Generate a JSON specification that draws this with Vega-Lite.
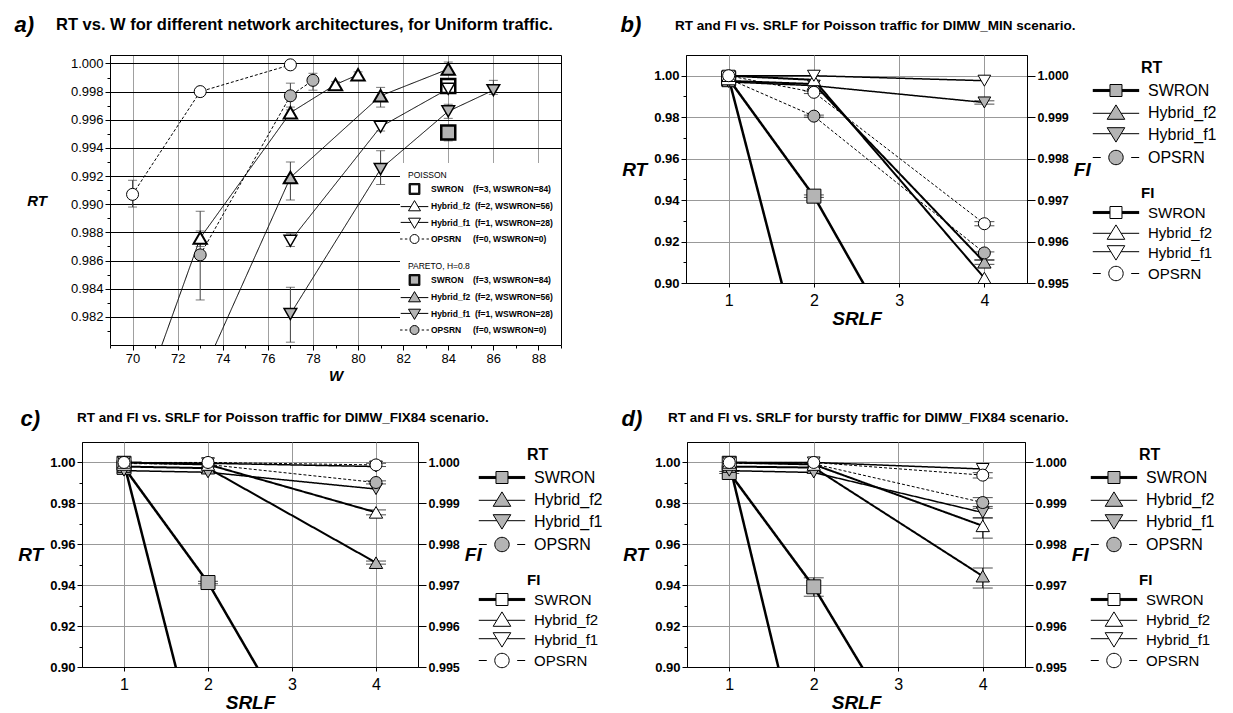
{
  "$schema": "https://vega.github.io/schema/vega-lite/v6.json",
  "padding": {"left": 14, "top": 12, "right": 5, "bottom": 0},
  "config": {
    "font": "Liberation Sans",
    "view": {"stroke": "black", "strokeWidth": 1},
    "axis": {"domainColor": "black", "tickColor": "black", "labelColor": "black", "titleColor": "black", "labelFont": "Liberation Sans", "titleFont": "Liberation Sans", "labelOverlap": false, "labelFlush": false},
    "legend": {"labelFont": "Liberation Sans", "titleFont": "Liberation Sans", "labelColor": "black", "titleColor": "black", "layout": {"direction": "vertical", "right": {"direction": "vertical", "margin": 9}, "bottom-right": {"direction": "vertical", "margin": 0}}},
    "title": {"font": "Liberation Sans", "color": "black", "anchor": "start", "frame": "group", "fontStyle": "normal", "fontWeight": "bold", "fontSize": 13.5, "offset": 0}
  },
  "datasets": {
    "a": [
      {"traffic": "Poisson", "arch": "SWRON", "W": 84, "RT": 0.9984, "lo": 0.9982, "hi": 0.9987},
      {"traffic": "Poisson", "arch": "Hybrid_f2", "W": 70, "RT": 0.9742},
      {"traffic": "Poisson", "arch": "Hybrid_f2", "W": 73, "RT": 0.9876, "lo": 0.987, "hi": 0.9881},
      {"traffic": "Poisson", "arch": "Hybrid_f2", "W": 77, "RT": 0.9965, "lo": 0.9962, "hi": 0.9969},
      {"traffic": "Poisson", "arch": "Hybrid_f2", "W": 79, "RT": 0.9985, "lo": 0.9983, "hi": 0.9987},
      {"traffic": "Poisson", "arch": "Hybrid_f2", "W": 80, "RT": 0.9992, "lo": 0.999, "hi": 0.9994},
      {"traffic": "Poisson", "arch": "Hybrid_f1", "W": 77, "RT": 0.9874, "lo": 0.987, "hi": 0.9879},
      {"traffic": "Poisson", "arch": "Hybrid_f1", "W": 81, "RT": 0.9955, "lo": 0.9952, "hi": 0.9958},
      {"traffic": "Poisson", "arch": "Hybrid_f1", "W": 84, "RT": 0.9982, "lo": 0.998, "hi": 0.9985},
      {"traffic": "Poisson", "arch": "OPSRN", "W": 70, "RT": 0.9907, "lo": 0.9898, "hi": 0.9917},
      {"traffic": "Poisson", "arch": "OPSRN", "W": 73, "RT": 0.998, "lo": 0.9979, "hi": 0.9982},
      {"traffic": "Poisson", "arch": "OPSRN", "W": 77, "RT": 0.9999, "lo": 0.9998, "hi": 1.0},
      {"traffic": "Pareto", "arch": "SWRON", "W": 84, "RT": 0.9951, "lo": 0.9945, "hi": 0.9956},
      {"traffic": "Pareto", "arch": "Hybrid_f2", "W": 73, "RT": 0.9776},
      {"traffic": "Pareto", "arch": "Hybrid_f2", "W": 77, "RT": 0.9919, "lo": 0.9903, "hi": 0.993},
      {"traffic": "Pareto", "arch": "Hybrid_f2", "W": 81, "RT": 0.9977, "lo": 0.9969, "hi": 0.9983},
      {"traffic": "Pareto", "arch": "Hybrid_f2", "W": 84, "RT": 0.9996, "lo": 0.9992, "hi": 1.0001},
      {"traffic": "Pareto", "arch": "Hybrid_f1", "W": 77, "RT": 0.9822, "lo": 0.9802, "hi": 0.9841},
      {"traffic": "Pareto", "arch": "Hybrid_f1", "W": 81, "RT": 0.9925, "lo": 0.9914, "hi": 0.9938},
      {"traffic": "Pareto", "arch": "Hybrid_f1", "W": 84, "RT": 0.9966, "lo": 0.9961, "hi": 0.9971},
      {"traffic": "Pareto", "arch": "Hybrid_f1", "W": 86, "RT": 0.9981, "lo": 0.9978, "hi": 0.9988},
      {"traffic": "Pareto", "arch": "OPSRN", "W": 73, "RT": 0.9864, "lo": 0.9832, "hi": 0.9895},
      {"traffic": "Pareto", "arch": "OPSRN", "W": 77, "RT": 0.9977, "lo": 0.9967, "hi": 0.9986},
      {"traffic": "Pareto", "arch": "OPSRN", "W": 78, "RT": 0.9988, "lo": 0.9981, "hi": 0.9993}
    ],
    "srlf": [
      {"panel": "b", "metric": "RT", "arch": "SWRON", "SRLF": 1, "value": 0.9985},
      {"panel": "b", "metric": "RT", "arch": "SWRON", "SRLF": 2, "value": 0.9419, "lo": 0.9413, "hi": 0.9425},
      {"panel": "b", "metric": "RT", "arch": "SWRON", "SRLF": 4, "value": 0.797},
      {"panel": "b", "metric": "RT", "arch": "Hybrid_f2", "SRLF": 1, "value": 0.9975},
      {"panel": "b", "metric": "RT", "arch": "Hybrid_f2", "SRLF": 2, "value": 0.996},
      {"panel": "b", "metric": "RT", "arch": "Hybrid_f2", "SRLF": 4, "value": 0.91, "lo": 0.909, "hi": 0.911},
      {"panel": "b", "metric": "RT", "arch": "Hybrid_f1", "SRLF": 1, "value": 0.997},
      {"panel": "b", "metric": "RT", "arch": "Hybrid_f1", "SRLF": 2, "value": 0.9952},
      {"panel": "b", "metric": "RT", "arch": "Hybrid_f1", "SRLF": 4, "value": 0.9871, "lo": 0.9863, "hi": 0.9879},
      {"panel": "b", "metric": "RT", "arch": "OPSRN", "SRLF": 1, "value": 0.9985},
      {"panel": "b", "metric": "RT", "arch": "OPSRN", "SRLF": 2, "value": 0.9805, "lo": 0.98, "hi": 0.981},
      {"panel": "b", "metric": "RT", "arch": "OPSRN", "SRLF": 4, "value": 0.9145, "lo": 0.9112, "hi": 0.915},
      {"panel": "b", "metric": "FI", "arch": "SWRON", "SRLF": 1, "value": 0.99995},
      {"panel": "b", "metric": "FI", "arch": "SWRON", "SRLF": 2, "value": 0.992},
      {"panel": "b", "metric": "FI", "arch": "SWRON", "SRLF": 4, "value": 0.976},
      {"panel": "b", "metric": "FI", "arch": "Hybrid_f2", "SRLF": 1, "value": 1.0},
      {"panel": "b", "metric": "FI", "arch": "Hybrid_f2", "SRLF": 2, "value": 0.9999},
      {"panel": "b", "metric": "FI", "arch": "Hybrid_f2", "SRLF": 4, "value": 0.99512},
      {"panel": "b", "metric": "FI", "arch": "Hybrid_f1", "SRLF": 1, "value": 1.0},
      {"panel": "b", "metric": "FI", "arch": "Hybrid_f1", "SRLF": 2, "value": 1.0},
      {"panel": "b", "metric": "FI", "arch": "Hybrid_f1", "SRLF": 4, "value": 0.99988},
      {"panel": "b", "metric": "FI", "arch": "OPSRN", "SRLF": 1, "value": 1.0},
      {"panel": "b", "metric": "FI", "arch": "OPSRN", "SRLF": 2, "value": 0.9996, "lo": 0.99957, "hi": 0.99963},
      {"panel": "b", "metric": "FI", "arch": "OPSRN", "SRLF": 4, "value": 0.99643, "lo": 0.99638, "hi": 0.99648},
      {"panel": "c", "metric": "RT", "arch": "SWRON", "SRLF": 1, "value": 0.9976},
      {"panel": "c", "metric": "RT", "arch": "SWRON", "SRLF": 2, "value": 0.9413, "lo": 0.9407, "hi": 0.9419},
      {"panel": "c", "metric": "RT", "arch": "SWRON", "SRLF": 4, "value": 0.8},
      {"panel": "c", "metric": "RT", "arch": "Hybrid_f2", "SRLF": 1, "value": 0.998},
      {"panel": "c", "metric": "RT", "arch": "Hybrid_f2", "SRLF": 2, "value": 0.9972},
      {"panel": "c", "metric": "RT", "arch": "Hybrid_f2", "SRLF": 4, "value": 0.951, "lo": 0.9503, "hi": 0.9518},
      {"panel": "c", "metric": "RT", "arch": "Hybrid_f1", "SRLF": 1, "value": 0.996},
      {"panel": "c", "metric": "RT", "arch": "Hybrid_f1", "SRLF": 2, "value": 0.9952},
      {"panel": "c", "metric": "RT", "arch": "Hybrid_f1", "SRLF": 4, "value": 0.987},
      {"panel": "c", "metric": "RT", "arch": "OPSRN", "SRLF": 1, "value": 0.9995},
      {"panel": "c", "metric": "RT", "arch": "OPSRN", "SRLF": 2, "value": 0.999},
      {"panel": "c", "metric": "RT", "arch": "OPSRN", "SRLF": 4, "value": 0.9902, "lo": 0.9895, "hi": 0.991},
      {"panel": "c", "metric": "FI", "arch": "SWRON", "SRLF": 1, "value": 0.99998},
      {"panel": "c", "metric": "FI", "arch": "SWRON", "SRLF": 2, "value": 0.9919},
      {"panel": "c", "metric": "FI", "arch": "SWRON", "SRLF": 4, "value": 0.976},
      {"panel": "c", "metric": "FI", "arch": "Hybrid_f2", "SRLF": 1, "value": 1.0},
      {"panel": "c", "metric": "FI", "arch": "Hybrid_f2", "SRLF": 2, "value": 0.99995},
      {"panel": "c", "metric": "FI", "arch": "Hybrid_f2", "SRLF": 4, "value": 0.99878, "lo": 0.99872, "hi": 0.99884},
      {"panel": "c", "metric": "FI", "arch": "Hybrid_f1", "SRLF": 1, "value": 1.0},
      {"panel": "c", "metric": "FI", "arch": "Hybrid_f1", "SRLF": 2, "value": 0.99998},
      {"panel": "c", "metric": "FI", "arch": "Hybrid_f1", "SRLF": 4, "value": 0.9999},
      {"panel": "c", "metric": "FI", "arch": "OPSRN", "SRLF": 1, "value": 1.0},
      {"panel": "c", "metric": "FI", "arch": "OPSRN", "SRLF": 2, "value": 1.0},
      {"panel": "c", "metric": "FI", "arch": "OPSRN", "SRLF": 4, "value": 0.99994, "lo": 0.9999, "hi": 0.99998},
      {"panel": "d", "metric": "RT", "arch": "SWRON", "SRLF": 1, "value": 0.9951, "lo": 0.9946, "hi": 0.9956},
      {"panel": "d", "metric": "RT", "arch": "SWRON", "SRLF": 2, "value": 0.9392, "lo": 0.9346, "hi": 0.9436},
      {"panel": "d", "metric": "RT", "arch": "SWRON", "SRLF": 4, "value": 0.802},
      {"panel": "d", "metric": "RT", "arch": "Hybrid_f2", "SRLF": 1, "value": 0.998},
      {"panel": "d", "metric": "RT", "arch": "Hybrid_f2", "SRLF": 2, "value": 0.9975},
      {"panel": "d", "metric": "RT", "arch": "Hybrid_f2", "SRLF": 4, "value": 0.9444, "lo": 0.9386, "hi": 0.9484},
      {"panel": "d", "metric": "RT", "arch": "Hybrid_f1", "SRLF": 1, "value": 0.996},
      {"panel": "d", "metric": "RT", "arch": "Hybrid_f1", "SRLF": 2, "value": 0.9951},
      {"panel": "d", "metric": "RT", "arch": "Hybrid_f1", "SRLF": 4, "value": 0.9755, "lo": 0.9728, "hi": 0.9785},
      {"panel": "d", "metric": "RT", "arch": "OPSRN", "SRLF": 1, "value": 0.9995},
      {"panel": "d", "metric": "RT", "arch": "OPSRN", "SRLF": 2, "value": 0.9993},
      {"panel": "d", "metric": "RT", "arch": "OPSRN", "SRLF": 4, "value": 0.9804, "lo": 0.9776, "hi": 0.9828},
      {"panel": "d", "metric": "FI", "arch": "SWRON", "SRLF": 1, "value": 0.99998},
      {"panel": "d", "metric": "FI", "arch": "SWRON", "SRLF": 2, "value": 0.9914},
      {"panel": "d", "metric": "FI", "arch": "SWRON", "SRLF": 4, "value": 0.974},
      {"panel": "d", "metric": "FI", "arch": "Hybrid_f2", "SRLF": 1, "value": 1.0},
      {"panel": "d", "metric": "FI", "arch": "Hybrid_f2", "SRLF": 2, "value": 0.99995},
      {"panel": "d", "metric": "FI", "arch": "Hybrid_f2", "SRLF": 4, "value": 0.99845, "lo": 0.99815, "hi": 0.99865},
      {"panel": "d", "metric": "FI", "arch": "Hybrid_f1", "SRLF": 1, "value": 1.0},
      {"panel": "d", "metric": "FI", "arch": "Hybrid_f1", "SRLF": 2, "value": 1.0},
      {"panel": "d", "metric": "FI", "arch": "Hybrid_f1", "SRLF": 4, "value": 0.99984},
      {"panel": "d", "metric": "FI", "arch": "OPSRN", "SRLF": 1, "value": 1.0},
      {"panel": "d", "metric": "FI", "arch": "OPSRN", "SRLF": 2, "value": 1.0},
      {"panel": "d", "metric": "FI", "arch": "OPSRN", "SRLF": 4, "value": 0.99969, "lo": 0.99962, "hi": 0.99975}
    ]
  },
  "spacing": 23,
  "vconcat": [
    {
      "hconcat": [
        {
          "width": 479, "height": 290,
          "view": {"stroke": null},
          "data": {"name": "a"},
          "title": {"text": "RT vs. W for different network architectures, for Uniform traffic.", "dx": -26, "dy": 24, "fontSize": 16.5},
          "resolve": {"scale": {"shape": "independent", "stroke": "independent"}, "axis": {"x": "independent", "y": "independent"}},
          "layer": [
            {
              "transform": [{"filter": "datum.arch !== 'SWRON'"}],
              "mark": {"type": "line", "clip": true, "color": "black", "strokeWidth": 1},
              "encoding": {
                "x": {"field": "W", "type": "quantitative", "scale": {"domain": [69, 89], "range": [28, 479], "nice": false, "zero": false},
                  "axis": {"title": "W", "values": [69, 70, 71, 72, 73, 74, 75, 76, 77, 78, 79, 80, 81, 82, 83, 84, 85, 86, 87, 88, 89], "labelExpr": "datum.value % 2 === 0 ? datum.label : ''", "tickSize": {"condition": {"test": "datum.value % 2 === 0", "value": 5}, "value": 3}, "grid": true, "gridColor": "#a0a0a0", "gridOpacity": {"condition": {"test": "datum.value % 2 === 0", "value": 1}, "value": 0}, "labelFontSize": 13, "labelPadding": 2, "titleFontSize": 15, "titleFontStyle": "italic", "titleFontWeight": "bold", "titlePadding": 3}},
                "y": {"field": "RT", "type": "quantitative", "scale": {"domain": [0.98, 1.0006], "nice": false, "zero": false},
                  "axis": {"title": "RT", "offset": -28, "values": [0.981, 0.982, 0.983, 0.984, 0.985, 0.986, 0.987, 0.988, 0.989, 0.99, 0.991, 0.992, 0.993, 0.994, 0.995, 0.996, 0.997, 0.998, 0.999, 1.0], "format": ".3f", "labelExpr": "round(datum.value*1000) % 2 === 0 ? datum.label : ''", "tickSize": {"condition": {"test": "round(datum.value*1000) % 2 === 0", "value": 5}, "value": 3}, "grid": true, "gridColor": "black", "gridOpacity": {"condition": {"test": "round(datum.value*1000) % 2 === 0", "value": 1}, "value": 0}, "labelFontSize": 13, "labelPadding": 2, "titleAngle": 0, "titleAlign": "right", "titleBaseline": "middle", "titleFontSize": 15, "titleFontStyle": "italic", "titleFontWeight": "bold", "titlePadding": 24}},
                "detail": {"field": "traffic"},
                "strokeDash": {"field": "arch", "type": "nominal", "scale": {"domain": ["Hybrid_f2", "Hybrid_f1", "OPSRN"], "range": [[1, 0], [1, 0], [3, 2]]}, "legend": null}
              }
            },
            {
              "transform": [{"filter": "isValid(datum.lo)"}],
              "mark": {"type": "errorbar", "color": "#404040", "ticks": {"size": 9}},
              "encoding": {
                "x": {"field": "W", "type": "quantitative", "axis": null},
                "y": {"field": "lo", "type": "quantitative", "axis": null},
                "y2": {"field": "hi"}
              }
            },
            {
              "transform": [{"filter": "datum.traffic === 'Poisson'"}],
              "mark": {"type": "point", "filled": true, "fill": "white", "stroke": "black", "opacity": 1, "clip": true},
              "encoding": {
                "x": {"field": "W", "type": "quantitative", "axis": {"orient": "top", "title": "a)", "titleX": -68, "titleY": -24, "titleAlign": "left", "titleBaseline": "alphabetic", "titleAngle": 0, "titleFontSize": 22, "titleFontStyle": "italic", "titleFontWeight": "bold", "labels": false, "ticks": false, "grid": false, "domain": true}},
                "y": {"field": "RT", "type": "quantitative", "axis": {"orient": "right", "title": null, "labels": false, "ticks": false, "grid": false, "domain": true}},
                "shape": {"field": "arch", "type": "nominal", "scale": {"domain": ["SWRON", "Hybrid_f2", "Hybrid_f1", "OPSRN"], "range": ["square", "triangle-up", "triangle-down", "circle"]}, "legend": null},
                "size": {"field": "arch", "type": "ordinal", "scale": {"domain": ["SWRON", "Hybrid_f2", "Hybrid_f1", "OPSRN"], "range": [196, 144, 144, 80]}, "legend": null},
                "strokeWidth": {"field": "arch", "type": "ordinal", "scale": {"domain": ["SWRON", "Hybrid_f2", "Hybrid_f1", "OPSRN"], "range": [2.5, 1, 1, 1]}, "legend": null}
              }
            },
            {
              "transform": [{"filter": "datum.traffic === 'Pareto'"}],
              "mark": {"type": "point", "filled": true, "fill": "#b4b4b4", "stroke": "black", "opacity": 1, "clip": true},
              "encoding": {
                "x": {"field": "W", "type": "quantitative", "axis": null},
                "y": {"field": "RT", "type": "quantitative", "axis": null},
                "shape": {"field": "arch", "type": "nominal", "scale": {"domain": ["SWRON", "Hybrid_f2", "Hybrid_f1", "OPSRN"], "range": ["square", "triangle-up", "triangle-down", "circle"]}, "legend": null},
                "size": {"field": "arch", "type": "ordinal", "scale": {"domain": ["SWRON", "Hybrid_f2", "Hybrid_f1", "OPSRN"], "range": [196, 144, 144, 80]}, "legend": null},
                "strokeWidth": {"field": "arch", "type": "ordinal", "scale": {"domain": ["SWRON", "Hybrid_f2", "Hybrid_f1", "OPSRN"], "range": [2.5, 1, 1, 1]}, "legend": null}
              }
            },
            {
              "transform": [{"filter": "datum.traffic === 'Poisson'"}],
              "mark": {"type": "point", "filled": true, "fill": "white", "opacity": 0, "clip": true},
              "encoding": {
                "x": {"field": "W", "type": "quantitative", "axis": null},
                "y": {"field": "RT", "type": "quantitative", "axis": null},
                "shape": {"field": "arch", "type": "nominal", "scale": {"domain": ["SWRON", "Hybrid_f2", "Hybrid_f1", "OPSRN"], "range": ["M-0.9,-0.9H0.9V0.9H-0.9ZM-0.8,-0.8H0.8V0.8H-0.8ZM-0.7,-0.7H0.7V0.7H-0.7Z", "M-2.3,0.1H-0.59M0.59,0.1H2.3M0,-0.9L1,0.8H-1Z", "M-2.3,-0.1H-0.59M0.59,-0.1H2.3M0,0.9L1,-0.8H-1Z", "M-2.4,0H-2M-1.6,0H-1.2M1.2,0H1.6M2,0H2.4M0.75,0A0.75,0.75,0,1,1,-0.75,0A0.75,0.75,0,1,1,0.75,0Z"]},
                  "legend": {"title": "POISSON", "orient": "bottom-right", "offset": 0, "fillColor": "white", "padding": 8, "symbolSize": 144, "symbolOpacity": 1, "symbolStrokeWidth": 1, "labelFontSize": 8.5, "labelFontWeight": "bold", "labelOffset": 10, "titleFontSize": 8.5, "titleFontWeight": "normal", "titlePadding": 3, "rowPadding": 2,
                    "labelExpr": "datum.label === 'SWRON' ? 'SWRON\u00a0\u00a0\u00a0 (f=3, WSWRON=84)' : datum.label === 'Hybrid_f2' ? 'Hybrid_f2\u00a0 (f=2, WSWRON=56)' : datum.label === 'Hybrid_f1' ? 'Hybrid_f1\u00a0 (f=1, WSWRON=28)' : 'OPSRN\u00a0\u00a0\u00a0\u00a0 (f=0, WSWRON=0)'"}},
                "stroke": {"field": "arch", "type": "nominal", "scale": {"domain": ["SWRON", "Hybrid_f2", "Hybrid_f1", "OPSRN"], "range": ["black", "black", "black", "black"]},
                  "legend": {"title": "POISSON", "orient": "bottom-right", "offset": 0, "fillColor": "white", "padding": 8, "symbolSize": 144, "symbolOpacity": 1, "symbolStrokeWidth": 1, "labelFontSize": 8.5, "labelFontWeight": "bold", "labelOffset": 10, "titleFontSize": 8.5, "titleFontWeight": "normal", "titlePadding": 3, "rowPadding": 2,
                    "labelExpr": "datum.label === 'SWRON' ? 'SWRON\u00a0\u00a0\u00a0 (f=3, WSWRON=84)' : datum.label === 'Hybrid_f2' ? 'Hybrid_f2\u00a0 (f=2, WSWRON=56)' : datum.label === 'Hybrid_f1' ? 'Hybrid_f1\u00a0 (f=1, WSWRON=28)' : 'OPSRN\u00a0\u00a0\u00a0\u00a0 (f=0, WSWRON=0)'"}}
              }
            },
            {
              "transform": [{"filter": "datum.traffic === 'Pareto'"}],
              "mark": {"type": "point", "filled": true, "fill": "#b4b4b4", "opacity": 0, "clip": true},
              "encoding": {
                "x": {"field": "W", "type": "quantitative", "axis": null},
                "y": {"field": "RT", "type": "quantitative", "axis": null},
                "shape": {"field": "arch", "type": "nominal", "scale": {"domain": ["SWRON", "Hybrid_f2", "Hybrid_f1", "OPSRN"], "range": ["M-0.9,-0.9H0.9V0.9H-0.9ZM-0.8,-0.8H0.8V0.8H-0.8ZM-0.7,-0.7H0.7V0.7H-0.7Z", "M-2.3,0.1H-0.59M0.59,0.1H2.3M0,-0.9L1,0.8H-1Z", "M-2.3,-0.1H-0.59M0.59,-0.1H2.3M0,0.9L1,-0.8H-1Z", "M-2.4,0H-2M-1.6,0H-1.2M1.2,0H1.6M2,0H2.4M0.75,0A0.75,0.75,0,1,1,-0.75,0A0.75,0.75,0,1,1,0.75,0Z"]},
                  "legend": {"title": "PARETO, H=0.8", "orient": "bottom-right", "offset": 0, "fillColor": "white", "padding": 8, "symbolSize": 144, "symbolOpacity": 1, "symbolStrokeWidth": 1, "labelFontSize": 8.5, "labelFontWeight": "bold", "labelOffset": 10, "titleFontSize": 8.5, "titleFontWeight": "normal", "titlePadding": 3, "rowPadding": 2,
                    "labelExpr": "datum.label === 'SWRON' ? 'SWRON\u00a0\u00a0\u00a0 (f=3, WSWRON=84)' : datum.label === 'Hybrid_f2' ? 'Hybrid_f2\u00a0 (f=2, WSWRON=56)' : datum.label === 'Hybrid_f1' ? 'Hybrid_f1\u00a0 (f=1, WSWRON=28)' : 'OPSRN\u00a0\u00a0\u00a0\u00a0 (f=0, WSWRON=0)'"}},
                "stroke": {"field": "arch", "type": "nominal", "scale": {"domain": ["SWRON", "Hybrid_f2", "Hybrid_f1", "OPSRN"], "range": ["black", "black", "black", "black"]},
                  "legend": {"title": "PARETO, H=0.8", "orient": "bottom-right", "offset": 0, "fillColor": "white", "padding": 8, "symbolSize": 144, "symbolOpacity": 1, "symbolStrokeWidth": 1, "labelFontSize": 8.5, "labelFontWeight": "bold", "labelOffset": 10, "titleFontSize": 8.5, "titleFontWeight": "normal", "titlePadding": 3, "rowPadding": 2,
                    "labelExpr": "datum.label === 'SWRON' ? 'SWRON\u00a0\u00a0\u00a0 (f=3, WSWRON=84)' : datum.label === 'Hybrid_f2' ? 'Hybrid_f2\u00a0 (f=2, WSWRON=56)' : datum.label === 'Hybrid_f1' ? 'Hybrid_f1\u00a0 (f=1, WSWRON=28)' : 'OPSRN\u00a0\u00a0\u00a0\u00a0 (f=0, WSWRON=0)'"}}
              }
            }
          ]
        },
        {
          "width": 341, "height": 228,
          "data": {"name": "srlf"},
          "transform": [{"filter": "datum.panel === 'b'"}],
          "title": {"text": "RT and FI vs. SRLF for Poisson traffic for DIMW_MIN scenario.", "dx": -11, "dy": 23},
          "resolve": {"scale": {"y": "independent", "shape": "independent", "stroke": "independent"}, "axis": {"x": "independent", "y": "independent"}},
          "layer": [
            {
              "transform": [{"filter": "datum.metric === 'RT'"}],
              "mark": {"type": "line", "clip": true, "color": "black"},
              "encoding": {
                "x": {"field": "SRLF", "type": "quantitative", "scale": {"domain": [0.5, 4.5], "nice": false, "zero": false}, "axis": {"title": "SRLF", "values": [1, 2, 3, 4], "format": "d", "grid": true, "gridColor": "#999999", "tickSize": 4, "labelFontSize": 16, "labelPadding": 5, "titleFontSize": 19, "titleFontStyle": "italic", "titleFontWeight": "bold", "titlePadding": 1}},
                "y": {"field": "value", "type": "quantitative", "scale": {"domain": [0.9, 1.01], "nice": false, "zero": false}, "axis": {"title": "RT", "values": [0.9, 0.91, 0.92, 0.93, 0.94, 0.95, 0.96, 0.97, 0.98, 0.99, 1.0], "format": ".2f", "labelExpr": "round(datum.value*100) % 2 === 0 ? datum.label : ''", "tickSize": {"condition": {"test": "round(datum.value*100) % 2 === 0", "value": 5}, "value": 3}, "grid": true, "gridColor": "#999999", "gridOpacity": {"condition": {"test": "round(datum.value*100) % 2 === 0", "value": 1}, "value": 0}, "labelFontSize": 13, "labelFontWeight": "bold", "labelPadding": 2, "titleAngle": 0, "titleAlign": "right", "titleBaseline": "middle", "titleFontSize": 19, "titleFontStyle": "italic", "titleFontWeight": "bold", "titlePadding": 7}},
                "strokeDash": {"field": "arch", "type": "nominal", "scale": {"domain": ["SWRON", "Hybrid_f2", "Hybrid_f1", "OPSRN"], "range": [[1, 0], [1, 0], [1, 0], [6, 3]]}, "legend": null},
                "strokeWidth": {"field": "arch", "type": "ordinal", "scale": {"domain": ["SWRON", "Hybrid_f2", "Hybrid_f1", "OPSRN"], "range": [2.8, 0.8, 0.8, 1.5]}, "legend": null}
              }
            },
            {
              "transform": [{"filter": "datum.metric === 'FI'"}],
              "mark": {"type": "line", "clip": true, "color": "black"},
              "encoding": {
                "x": {"field": "SRLF", "type": "quantitative", "axis": null},
                "y": {"field": "value", "type": "quantitative", "scale": {"domain": [0.995, 1.0005], "nice": false, "zero": false}, "axis": {"orient": "right", "title": "FI", "values": [0.995, 0.996, 0.997, 0.998, 0.999, 1.0], "format": ".3f", "tickSize": 8, "grid": false, "labelFontSize": 12.5, "labelFontWeight": "bold", "labelPadding": 2, "titleAngle": 0, "titleAlign": "left", "titleBaseline": "middle", "titleFontSize": 19, "titleFontStyle": "italic", "titleFontWeight": "bold", "titlePadding": 5}},
                "strokeDash": {"field": "arch", "type": "nominal", "scale": {"domain": ["SWRON", "Hybrid_f2", "Hybrid_f1", "OPSRN"], "range": [[1, 0], [1, 0], [1, 0], [6, 3]]}, "legend": null},
                "strokeWidth": {"field": "arch", "type": "ordinal", "scale": {"domain": ["SWRON", "Hybrid_f2", "Hybrid_f1", "OPSRN"], "range": [2.8, 0.8, 0.8, 1.5]}, "legend": null}
              }
            },
            {
              "transform": [{"filter": "datum.metric === 'RT' && isValid(datum.lo)"}],
              "mark": {"type": "errorbar", "color": "black", "ticks": {"size": 20}},
              "encoding": {"x": {"field": "SRLF", "type": "quantitative", "axis": null}, "y": {"field": "lo", "type": "quantitative", "scale": {"domain": [0.9, 1.01], "nice": false, "zero": false}, "axis": null}, "y2": {"field": "hi"}}
            },
            {
              "transform": [{"filter": "datum.metric === 'FI' && isValid(datum.lo)"}],
              "mark": {"type": "errorbar", "color": "black", "ticks": {"size": 20}},
              "encoding": {"x": {"field": "SRLF", "type": "quantitative", "axis": null}, "y": {"field": "lo", "type": "quantitative", "scale": {"domain": [0.995, 1.0005], "nice": false, "zero": false}, "axis": null}, "y2": {"field": "hi"}}
            },
            {
              "transform": [{"filter": "datum.metric === 'RT'"}],
              "mark": {"type": "point", "filled": true, "fill": "#b4b4b4", "stroke": "black", "strokeWidth": 1, "opacity": 1, "clip": true},
              "encoding": {
                "x": {"field": "SRLF", "type": "quantitative", "axis": {"orient": "top", "title": "b)", "titleX": -66, "titleY": -24, "titleAlign": "left", "titleBaseline": "alphabetic", "titleAngle": 0, "titleFontSize": 22, "titleFontStyle": "italic", "titleFontWeight": "bold", "labels": false, "ticks": false, "grid": false, "domain": false}},
                "y": {"field": "value", "type": "quantitative", "scale": {"domain": [0.9, 1.01], "nice": false, "zero": false}, "axis": null},
                "shape": {"field": "arch", "type": "nominal", "scale": {"domain": ["SWRON", "Hybrid_f2", "Hybrid_f1", "OPSRN"], "range": ["square", "triangle-up", "triangle-down", "circle"]}, "legend": null},
                "size": {"field": "arch", "type": "ordinal", "scale": {"domain": ["SWRON", "Hybrid_f2", "Hybrid_f1", "OPSRN"], "range": [170, 290, 290, 155]}, "legend": null}
              }
            },
            {
              "transform": [{"filter": "datum.metric === 'FI'"}],
              "mark": {"type": "point", "filled": true, "fill": "white", "stroke": "black", "strokeWidth": 1, "opacity": 1, "clip": true},
              "encoding": {
                "x": {"field": "SRLF", "type": "quantitative", "axis": null},
                "y": {"field": "value", "type": "quantitative", "scale": {"domain": [0.995, 1.0005], "nice": false, "zero": false}, "axis": null},
                "shape": {"field": "arch", "type": "nominal", "scale": {"domain": ["SWRON", "Hybrid_f2", "Hybrid_f1", "OPSRN"], "range": ["square", "triangle-up", "triangle-down", "circle"]}, "legend": null},
                "size": {"field": "arch", "type": "ordinal", "scale": {"domain": ["SWRON", "Hybrid_f2", "Hybrid_f1", "OPSRN"], "range": [170, 290, 290, 155]}, "legend": null}
              }
            },
            {
              "transform": [{"filter": "datum.metric === 'RT'"}],
              "mark": {"type": "point", "filled": true, "fill": "#b4b4b4", "opacity": 0, "clip": true},
              "encoding": {
                "x": {"field": "SRLF", "type": "quantitative", "axis": null},
                "y": {"field": "value", "type": "quantitative", "scale": {"domain": [0.9, 1.01], "nice": false, "zero": false}, "axis": null},
                "shape": {"field": "arch", "type": "nominal", "scale": {"domain": ["SWRON", "Hybrid_f2", "Hybrid_f1", "OPSRN"], "range": ["M-7.09,-0.13H-4.94M-7.09,0H-4.94M-7.09,0.13H-4.94M-3.44,-0.13H-1.29M-3.44,0H-1.29M-3.44,0.13H-1.29M-4.94,-0.75H-3.44V0.75H-4.94Z", "M-7.09,0.1H-4.83M-3.55,0.1H-1.29M-4.19,-0.95L-3.09,0.85H-5.29Z", "M-7.09,-0.1H-4.83M-3.55,-0.1H-1.29M-4.19,0.95L-3.09,-0.85H-5.29Z", "M-7.09,0H-6.09M-2.29,0H-1.29M-3.29,0A0.9,0.9,0,1,1,-5.09,0A0.9,0.9,0,1,1,-3.29,0Z"]},
                  "legend": {"title": "RT", "orient": "right", "offset": 45, "padding": 5, "symbolSize": 256, "symbolOpacity": 1, "symbolStrokeWidth": 1, "labelFontSize": 16, "labelOffset": -10, "titleFontSize": 16, "titleFontWeight": "bold", "titlePadding": 6, "rowPadding": 3}},
                "stroke": {"field": "arch", "type": "nominal", "scale": {"domain": ["SWRON", "Hybrid_f2", "Hybrid_f1", "OPSRN"], "range": ["black", "black", "black", "black"]},
                  "legend": {"title": "RT", "orient": "right", "offset": 45, "padding": 5, "symbolSize": 256, "symbolOpacity": 1, "symbolStrokeWidth": 1, "labelFontSize": 16, "labelOffset": -10, "titleFontSize": 16, "titleFontWeight": "bold", "titlePadding": 6, "rowPadding": 3}}
              }
            },
            {
              "transform": [{"filter": "datum.metric === 'FI'"}],
              "mark": {"type": "point", "filled": true, "fill": "white", "opacity": 0, "clip": true},
              "encoding": {
                "x": {"field": "SRLF", "type": "quantitative", "axis": null},
                "y": {"field": "value", "type": "quantitative", "scale": {"domain": [0.995, 1.0005], "nice": false, "zero": false}, "axis": null},
                "shape": {"field": "arch", "type": "nominal", "scale": {"domain": ["SWRON", "Hybrid_f2", "Hybrid_f1", "OPSRN"], "range": ["M-7.09,-0.13H-4.94M-7.09,0H-4.94M-7.09,0.13H-4.94M-3.44,-0.13H-1.29M-3.44,0H-1.29M-3.44,0.13H-1.29M-4.94,-0.75H-3.44V0.75H-4.94Z", "M-7.09,0.1H-4.83M-3.55,0.1H-1.29M-4.19,-0.95L-3.09,0.85H-5.29Z", "M-7.09,-0.1H-4.83M-3.55,-0.1H-1.29M-4.19,0.95L-3.09,-0.85H-5.29Z", "M-7.09,0H-6.09M-2.29,0H-1.29M-3.29,0A0.9,0.9,0,1,1,-5.09,0A0.9,0.9,0,1,1,-3.29,0Z"]},
                  "legend": {"title": "FI", "orient": "right", "offset": 45, "padding": 5, "symbolSize": 256, "symbolOpacity": 1, "symbolStrokeWidth": 1, "labelFontSize": 15, "labelOffset": -10, "titleFontSize": 15, "titleFontWeight": "bold", "titlePadding": 3, "rowPadding": 1}},
                "stroke": {"field": "arch", "type": "nominal", "scale": {"domain": ["SWRON", "Hybrid_f2", "Hybrid_f1", "OPSRN"], "range": ["black", "black", "black", "black"]},
                  "legend": {"title": "FI", "orient": "right", "offset": 45, "padding": 5, "symbolSize": 256, "symbolOpacity": 1, "symbolStrokeWidth": 1, "labelFontSize": 15, "labelOffset": -10, "titleFontSize": 15, "titleFontWeight": "bold", "titlePadding": 3, "rowPadding": 1}}
              }
            }
          ]
        }
      ],
      "spacing": 125,
      "bounds": "flush"
    },
    {
      "hconcat": [
        {
          "width": 336, "height": 225,
          "data": {"name": "srlf"},
          "transform": [{"filter": "datum.panel === 'c'"}],
          "title": {"text": "RT and FI vs. SRLF for Poisson traffic for DIMW_FIX84 scenario.", "dx": -5, "dy": 21},
          "resolve": {"scale": {"y": "independent", "shape": "independent", "stroke": "independent"}, "axis": {"x": "independent", "y": "independent"}},
          "layer": [
            {
              "transform": [{"filter": "datum.metric === 'RT'"}],
              "mark": {"type": "line", "clip": true, "color": "black"},
              "encoding": {
                "x": {"field": "SRLF", "type": "quantitative", "scale": {"domain": [0.5, 4.5], "nice": false, "zero": false}, "axis": {"title": "SRLF", "values": [1, 2, 3, 4], "format": "d", "grid": true, "gridColor": "#999999", "tickSize": 4, "labelFontSize": 16, "labelPadding": 5, "titleFontSize": 19, "titleFontStyle": "italic", "titleFontWeight": "bold", "titlePadding": 1}},
                "y": {"field": "value", "type": "quantitative", "scale": {"domain": [0.9, 1.01], "nice": false, "zero": false}, "axis": {"title": "RT", "values": [0.9, 0.91, 0.92, 0.93, 0.94, 0.95, 0.96, 0.97, 0.98, 0.99, 1.0], "format": ".2f", "labelExpr": "round(datum.value*100) % 2 === 0 ? datum.label : ''", "tickSize": {"condition": {"test": "round(datum.value*100) % 2 === 0", "value": 5}, "value": 3}, "grid": true, "gridColor": "#999999", "gridOpacity": {"condition": {"test": "round(datum.value*100) % 2 === 0", "value": 1}, "value": 0}, "labelFontSize": 13, "labelFontWeight": "bold", "labelPadding": 2, "titleAngle": 0, "titleAlign": "right", "titleBaseline": "middle", "titleFontSize": 19, "titleFontStyle": "italic", "titleFontWeight": "bold", "titlePadding": 7}},
                "strokeDash": {"field": "arch", "type": "nominal", "scale": {"domain": ["SWRON", "Hybrid_f2", "Hybrid_f1", "OPSRN"], "range": [[1, 0], [1, 0], [1, 0], [6, 3]]}, "legend": null},
                "strokeWidth": {"field": "arch", "type": "ordinal", "scale": {"domain": ["SWRON", "Hybrid_f2", "Hybrid_f1", "OPSRN"], "range": [2.8, 0.8, 0.8, 1.5]}, "legend": null}
              }
            },
            {
              "transform": [{"filter": "datum.metric === 'FI'"}],
              "mark": {"type": "line", "clip": true, "color": "black"},
              "encoding": {
                "x": {"field": "SRLF", "type": "quantitative", "axis": null},
                "y": {"field": "value", "type": "quantitative", "scale": {"domain": [0.995, 1.0005], "nice": false, "zero": false}, "axis": {"orient": "right", "title": "FI", "values": [0.995, 0.996, 0.997, 0.998, 0.999, 1.0], "format": ".3f", "tickSize": 8, "grid": false, "labelFontSize": 12.5, "labelFontWeight": "bold", "labelPadding": 2, "titleAngle": 0, "titleAlign": "left", "titleBaseline": "middle", "titleFontSize": 19, "titleFontStyle": "italic", "titleFontWeight": "bold", "titlePadding": 5}},
                "strokeDash": {"field": "arch", "type": "nominal", "scale": {"domain": ["SWRON", "Hybrid_f2", "Hybrid_f1", "OPSRN"], "range": [[1, 0], [1, 0], [1, 0], [6, 3]]}, "legend": null},
                "strokeWidth": {"field": "arch", "type": "ordinal", "scale": {"domain": ["SWRON", "Hybrid_f2", "Hybrid_f1", "OPSRN"], "range": [2.8, 0.8, 0.8, 1.5]}, "legend": null}
              }
            },
            {
              "transform": [{"filter": "datum.metric === 'RT' && isValid(datum.lo)"}],
              "mark": {"type": "errorbar", "color": "black", "ticks": {"size": 20}},
              "encoding": {"x": {"field": "SRLF", "type": "quantitative", "axis": null}, "y": {"field": "lo", "type": "quantitative", "scale": {"domain": [0.9, 1.01], "nice": false, "zero": false}, "axis": null}, "y2": {"field": "hi"}}
            },
            {
              "transform": [{"filter": "datum.metric === 'FI' && isValid(datum.lo)"}],
              "mark": {"type": "errorbar", "color": "black", "ticks": {"size": 20}},
              "encoding": {"x": {"field": "SRLF", "type": "quantitative", "axis": null}, "y": {"field": "lo", "type": "quantitative", "scale": {"domain": [0.995, 1.0005], "nice": false, "zero": false}, "axis": null}, "y2": {"field": "hi"}}
            },
            {
              "transform": [{"filter": "datum.metric === 'RT'"}],
              "mark": {"type": "point", "filled": true, "fill": "#b4b4b4", "stroke": "black", "strokeWidth": 1, "opacity": 1, "clip": true},
              "encoding": {
                "x": {"field": "SRLF", "type": "quantitative", "axis": {"orient": "top", "title": "c)", "titleX": -62, "titleY": -17, "titleAlign": "left", "titleBaseline": "alphabetic", "titleAngle": 0, "titleFontSize": 22, "titleFontStyle": "italic", "titleFontWeight": "bold", "labels": false, "ticks": false, "grid": false, "domain": false}},
                "y": {"field": "value", "type": "quantitative", "scale": {"domain": [0.9, 1.01], "nice": false, "zero": false}, "axis": null},
                "shape": {"field": "arch", "type": "nominal", "scale": {"domain": ["SWRON", "Hybrid_f2", "Hybrid_f1", "OPSRN"], "range": ["square", "triangle-up", "triangle-down", "circle"]}, "legend": null},
                "size": {"field": "arch", "type": "ordinal", "scale": {"domain": ["SWRON", "Hybrid_f2", "Hybrid_f1", "OPSRN"], "range": [170, 290, 290, 155]}, "legend": null}
              }
            },
            {
              "transform": [{"filter": "datum.metric === 'FI'"}],
              "mark": {"type": "point", "filled": true, "fill": "white", "stroke": "black", "strokeWidth": 1, "opacity": 1, "clip": true},
              "encoding": {
                "x": {"field": "SRLF", "type": "quantitative", "axis": null},
                "y": {"field": "value", "type": "quantitative", "scale": {"domain": [0.995, 1.0005], "nice": false, "zero": false}, "axis": null},
                "shape": {"field": "arch", "type": "nominal", "scale": {"domain": ["SWRON", "Hybrid_f2", "Hybrid_f1", "OPSRN"], "range": ["square", "triangle-up", "triangle-down", "circle"]}, "legend": null},
                "size": {"field": "arch", "type": "ordinal", "scale": {"domain": ["SWRON", "Hybrid_f2", "Hybrid_f1", "OPSRN"], "range": [170, 290, 290, 155]}, "legend": null}
              }
            },
            {
              "transform": [{"filter": "datum.metric === 'RT'"}],
              "mark": {"type": "point", "filled": true, "fill": "#b4b4b4", "opacity": 0, "clip": true},
              "encoding": {
                "x": {"field": "SRLF", "type": "quantitative", "axis": null},
                "y": {"field": "value", "type": "quantitative", "scale": {"domain": [0.9, 1.01], "nice": false, "zero": false}, "axis": null},
                "shape": {"field": "arch", "type": "nominal", "scale": {"domain": ["SWRON", "Hybrid_f2", "Hybrid_f1", "OPSRN"], "range": ["M-7.09,-0.13H-4.94M-7.09,0H-4.94M-7.09,0.13H-4.94M-3.44,-0.13H-1.29M-3.44,0H-1.29M-3.44,0.13H-1.29M-4.94,-0.75H-3.44V0.75H-4.94Z", "M-7.09,0.1H-4.83M-3.55,0.1H-1.29M-4.19,-0.95L-3.09,0.85H-5.29Z", "M-7.09,-0.1H-4.83M-3.55,-0.1H-1.29M-4.19,0.95L-3.09,-0.85H-5.29Z", "M-7.09,0H-6.09M-2.29,0H-1.29M-3.29,0A0.9,0.9,0,1,1,-5.09,0A0.9,0.9,0,1,1,-3.29,0Z"]},
                  "legend": {"title": "RT", "orient": "right", "offset": 40, "padding": 5, "symbolSize": 256, "symbolOpacity": 1, "symbolStrokeWidth": 1, "labelFontSize": 16, "labelOffset": -10, "titleFontSize": 16, "titleFontWeight": "bold", "titlePadding": 6, "rowPadding": 3}},
                "stroke": {"field": "arch", "type": "nominal", "scale": {"domain": ["SWRON", "Hybrid_f2", "Hybrid_f1", "OPSRN"], "range": ["black", "black", "black", "black"]},
                  "legend": {"title": "RT", "orient": "right", "offset": 40, "padding": 5, "symbolSize": 256, "symbolOpacity": 1, "symbolStrokeWidth": 1, "labelFontSize": 16, "labelOffset": -10, "titleFontSize": 16, "titleFontWeight": "bold", "titlePadding": 6, "rowPadding": 3}}
              }
            },
            {
              "transform": [{"filter": "datum.metric === 'FI'"}],
              "mark": {"type": "point", "filled": true, "fill": "white", "opacity": 0, "clip": true},
              "encoding": {
                "x": {"field": "SRLF", "type": "quantitative", "axis": null},
                "y": {"field": "value", "type": "quantitative", "scale": {"domain": [0.995, 1.0005], "nice": false, "zero": false}, "axis": null},
                "shape": {"field": "arch", "type": "nominal", "scale": {"domain": ["SWRON", "Hybrid_f2", "Hybrid_f1", "OPSRN"], "range": ["M-7.09,-0.13H-4.94M-7.09,0H-4.94M-7.09,0.13H-4.94M-3.44,-0.13H-1.29M-3.44,0H-1.29M-3.44,0.13H-1.29M-4.94,-0.75H-3.44V0.75H-4.94Z", "M-7.09,0.1H-4.83M-3.55,0.1H-1.29M-4.19,-0.95L-3.09,0.85H-5.29Z", "M-7.09,-0.1H-4.83M-3.55,-0.1H-1.29M-4.19,0.95L-3.09,-0.85H-5.29Z", "M-7.09,0H-6.09M-2.29,0H-1.29M-3.29,0A0.9,0.9,0,1,1,-5.09,0A0.9,0.9,0,1,1,-3.29,0Z"]},
                  "legend": {"title": "FI", "orient": "right", "offset": 40, "padding": 5, "symbolSize": 256, "symbolOpacity": 1, "symbolStrokeWidth": 1, "labelFontSize": 15, "labelOffset": -10, "titleFontSize": 15, "titleFontWeight": "bold", "titlePadding": 3, "rowPadding": 1}},
                "stroke": {"field": "arch", "type": "nominal", "scale": {"domain": ["SWRON", "Hybrid_f2", "Hybrid_f1", "OPSRN"], "range": ["black", "black", "black", "black"]},
                  "legend": {"title": "FI", "orient": "right", "offset": 40, "padding": 5, "symbolSize": 256, "symbolOpacity": 1, "symbolStrokeWidth": 1, "labelFontSize": 15, "labelOffset": -10, "titleFontSize": 15, "titleFontWeight": "bold", "titlePadding": 3, "rowPadding": 1}}
              }
            }
          ]
        },
        {
          "width": 338, "height": 225,
          "data": {"name": "srlf"},
          "transform": [{"filter": "datum.panel === 'd'"}],
          "title": {"text": "RT and FI vs. SRLF for bursty traffic for DIMW_FIX84 scenario.", "dx": -19, "dy": 21},
          "resolve": {"scale": {"y": "independent", "shape": "independent", "stroke": "independent"}, "axis": {"x": "independent", "y": "independent"}},
          "layer": [
            {
              "transform": [{"filter": "datum.metric === 'RT'"}],
              "mark": {"type": "line", "clip": true, "color": "black"},
              "encoding": {
                "x": {"field": "SRLF", "type": "quantitative", "scale": {"domain": [0.5, 4.5], "nice": false, "zero": false}, "axis": {"title": "SRLF", "values": [1, 2, 3, 4], "format": "d", "grid": true, "gridColor": "#999999", "tickSize": 4, "labelFontSize": 16, "labelPadding": 5, "titleFontSize": 19, "titleFontStyle": "italic", "titleFontWeight": "bold", "titlePadding": 1}},
                "y": {"field": "value", "type": "quantitative", "scale": {"domain": [0.9, 1.01], "nice": false, "zero": false}, "axis": {"title": "RT", "values": [0.9, 0.91, 0.92, 0.93, 0.94, 0.95, 0.96, 0.97, 0.98, 0.99, 1.0], "format": ".2f", "labelExpr": "round(datum.value*100) % 2 === 0 ? datum.label : ''", "tickSize": {"condition": {"test": "round(datum.value*100) % 2 === 0", "value": 5}, "value": 3}, "grid": true, "gridColor": "#999999", "gridOpacity": {"condition": {"test": "round(datum.value*100) % 2 === 0", "value": 1}, "value": 0}, "labelFontSize": 13, "labelFontWeight": "bold", "labelPadding": 2, "titleAngle": 0, "titleAlign": "right", "titleBaseline": "middle", "titleFontSize": 19, "titleFontStyle": "italic", "titleFontWeight": "bold", "titlePadding": 7}},
                "strokeDash": {"field": "arch", "type": "nominal", "scale": {"domain": ["SWRON", "Hybrid_f2", "Hybrid_f1", "OPSRN"], "range": [[1, 0], [1, 0], [1, 0], [6, 3]]}, "legend": null},
                "strokeWidth": {"field": "arch", "type": "ordinal", "scale": {"domain": ["SWRON", "Hybrid_f2", "Hybrid_f1", "OPSRN"], "range": [2.8, 0.8, 0.8, 1.5]}, "legend": null}
              }
            },
            {
              "transform": [{"filter": "datum.metric === 'FI'"}],
              "mark": {"type": "line", "clip": true, "color": "black"},
              "encoding": {
                "x": {"field": "SRLF", "type": "quantitative", "axis": null},
                "y": {"field": "value", "type": "quantitative", "scale": {"domain": [0.995, 1.0005], "nice": false, "zero": false}, "axis": {"orient": "right", "title": "FI", "values": [0.995, 0.996, 0.997, 0.998, 0.999, 1.0], "format": ".3f", "tickSize": 8, "grid": false, "labelFontSize": 12.5, "labelFontWeight": "bold", "labelPadding": 2, "titleAngle": 0, "titleAlign": "left", "titleBaseline": "middle", "titleFontSize": 19, "titleFontStyle": "italic", "titleFontWeight": "bold", "titlePadding": 5}},
                "strokeDash": {"field": "arch", "type": "nominal", "scale": {"domain": ["SWRON", "Hybrid_f2", "Hybrid_f1", "OPSRN"], "range": [[1, 0], [1, 0], [1, 0], [6, 3]]}, "legend": null},
                "strokeWidth": {"field": "arch", "type": "ordinal", "scale": {"domain": ["SWRON", "Hybrid_f2", "Hybrid_f1", "OPSRN"], "range": [2.8, 0.8, 0.8, 1.5]}, "legend": null}
              }
            },
            {
              "transform": [{"filter": "datum.metric === 'RT' && isValid(datum.lo)"}],
              "mark": {"type": "errorbar", "color": "black", "ticks": {"size": 20}},
              "encoding": {"x": {"field": "SRLF", "type": "quantitative", "axis": null}, "y": {"field": "lo", "type": "quantitative", "scale": {"domain": [0.9, 1.01], "nice": false, "zero": false}, "axis": null}, "y2": {"field": "hi"}}
            },
            {
              "transform": [{"filter": "datum.metric === 'FI' && isValid(datum.lo)"}],
              "mark": {"type": "errorbar", "color": "black", "ticks": {"size": 20}},
              "encoding": {"x": {"field": "SRLF", "type": "quantitative", "axis": null}, "y": {"field": "lo", "type": "quantitative", "scale": {"domain": [0.995, 1.0005], "nice": false, "zero": false}, "axis": null}, "y2": {"field": "hi"}}
            },
            {
              "transform": [{"filter": "datum.metric === 'RT'"}],
              "mark": {"type": "point", "filled": true, "fill": "#b4b4b4", "stroke": "black", "strokeWidth": 1, "opacity": 1, "clip": true},
              "encoding": {
                "x": {"field": "SRLF", "type": "quantitative", "axis": {"orient": "top", "title": "d)", "titleX": -66, "titleY": -17, "titleAlign": "left", "titleBaseline": "alphabetic", "titleAngle": 0, "titleFontSize": 22, "titleFontStyle": "italic", "titleFontWeight": "bold", "labels": false, "ticks": false, "grid": false, "domain": false}},
                "y": {"field": "value", "type": "quantitative", "scale": {"domain": [0.9, 1.01], "nice": false, "zero": false}, "axis": null},
                "shape": {"field": "arch", "type": "nominal", "scale": {"domain": ["SWRON", "Hybrid_f2", "Hybrid_f1", "OPSRN"], "range": ["square", "triangle-up", "triangle-down", "circle"]}, "legend": null},
                "size": {"field": "arch", "type": "ordinal", "scale": {"domain": ["SWRON", "Hybrid_f2", "Hybrid_f1", "OPSRN"], "range": [170, 290, 290, 155]}, "legend": null}
              }
            },
            {
              "transform": [{"filter": "datum.metric === 'FI'"}],
              "mark": {"type": "point", "filled": true, "fill": "white", "stroke": "black", "strokeWidth": 1, "opacity": 1, "clip": true},
              "encoding": {
                "x": {"field": "SRLF", "type": "quantitative", "axis": null},
                "y": {"field": "value", "type": "quantitative", "scale": {"domain": [0.995, 1.0005], "nice": false, "zero": false}, "axis": null},
                "shape": {"field": "arch", "type": "nominal", "scale": {"domain": ["SWRON", "Hybrid_f2", "Hybrid_f1", "OPSRN"], "range": ["square", "triangle-up", "triangle-down", "circle"]}, "legend": null},
                "size": {"field": "arch", "type": "ordinal", "scale": {"domain": ["SWRON", "Hybrid_f2", "Hybrid_f1", "OPSRN"], "range": [170, 290, 290, 155]}, "legend": null}
              }
            },
            {
              "transform": [{"filter": "datum.metric === 'RT'"}],
              "mark": {"type": "point", "filled": true, "fill": "#b4b4b4", "opacity": 0, "clip": true},
              "encoding": {
                "x": {"field": "SRLF", "type": "quantitative", "axis": null},
                "y": {"field": "value", "type": "quantitative", "scale": {"domain": [0.9, 1.01], "nice": false, "zero": false}, "axis": null},
                "shape": {"field": "arch", "type": "nominal", "scale": {"domain": ["SWRON", "Hybrid_f2", "Hybrid_f1", "OPSRN"], "range": ["M-7.09,-0.13H-4.94M-7.09,0H-4.94M-7.09,0.13H-4.94M-3.44,-0.13H-1.29M-3.44,0H-1.29M-3.44,0.13H-1.29M-4.94,-0.75H-3.44V0.75H-4.94Z", "M-7.09,0.1H-4.83M-3.55,0.1H-1.29M-4.19,-0.95L-3.09,0.85H-5.29Z", "M-7.09,-0.1H-4.83M-3.55,-0.1H-1.29M-4.19,0.95L-3.09,-0.85H-5.29Z", "M-7.09,0H-6.09M-2.29,0H-1.29M-3.29,0A0.9,0.9,0,1,1,-5.09,0A0.9,0.9,0,1,1,-3.29,0Z"]},
                  "legend": {"title": "RT", "orient": "right", "offset": 45, "padding": 5, "symbolSize": 256, "symbolOpacity": 1, "symbolStrokeWidth": 1, "labelFontSize": 16, "labelOffset": -10, "titleFontSize": 16, "titleFontWeight": "bold", "titlePadding": 6, "rowPadding": 3}},
                "stroke": {"field": "arch", "type": "nominal", "scale": {"domain": ["SWRON", "Hybrid_f2", "Hybrid_f1", "OPSRN"], "range": ["black", "black", "black", "black"]},
                  "legend": {"title": "RT", "orient": "right", "offset": 45, "padding": 5, "symbolSize": 256, "symbolOpacity": 1, "symbolStrokeWidth": 1, "labelFontSize": 16, "labelOffset": -10, "titleFontSize": 16, "titleFontWeight": "bold", "titlePadding": 6, "rowPadding": 3}}
              }
            },
            {
              "transform": [{"filter": "datum.metric === 'FI'"}],
              "mark": {"type": "point", "filled": true, "fill": "white", "opacity": 0, "clip": true},
              "encoding": {
                "x": {"field": "SRLF", "type": "quantitative", "axis": null},
                "y": {"field": "value", "type": "quantitative", "scale": {"domain": [0.995, 1.0005], "nice": false, "zero": false}, "axis": null},
                "shape": {"field": "arch", "type": "nominal", "scale": {"domain": ["SWRON", "Hybrid_f2", "Hybrid_f1", "OPSRN"], "range": ["M-7.09,-0.13H-4.94M-7.09,0H-4.94M-7.09,0.13H-4.94M-3.44,-0.13H-1.29M-3.44,0H-1.29M-3.44,0.13H-1.29M-4.94,-0.75H-3.44V0.75H-4.94Z", "M-7.09,0.1H-4.83M-3.55,0.1H-1.29M-4.19,-0.95L-3.09,0.85H-5.29Z", "M-7.09,-0.1H-4.83M-3.55,-0.1H-1.29M-4.19,0.95L-3.09,-0.85H-5.29Z", "M-7.09,0H-6.09M-2.29,0H-1.29M-3.29,0A0.9,0.9,0,1,1,-5.09,0A0.9,0.9,0,1,1,-3.29,0Z"]},
                  "legend": {"title": "FI", "orient": "right", "offset": 45, "padding": 5, "symbolSize": 256, "symbolOpacity": 1, "symbolStrokeWidth": 1, "labelFontSize": 15, "labelOffset": -10, "titleFontSize": 15, "titleFontWeight": "bold", "titlePadding": 3, "rowPadding": 1}},
                "stroke": {"field": "arch", "type": "nominal", "scale": {"domain": ["SWRON", "Hybrid_f2", "Hybrid_f1", "OPSRN"], "range": ["black", "black", "black", "black"]},
                  "legend": {"title": "FI", "orient": "right", "offset": 45, "padding": 5, "symbolSize": 256, "symbolOpacity": 1, "symbolStrokeWidth": 1, "labelFontSize": 15, "labelOffset": -10, "titleFontSize": 15, "titleFontWeight": "bold", "titlePadding": 3, "rowPadding": 1}}
              }
            }
          ]
        }
      ],
      "spacing": 269,
      "bounds": "flush"
    }
  ]
}
